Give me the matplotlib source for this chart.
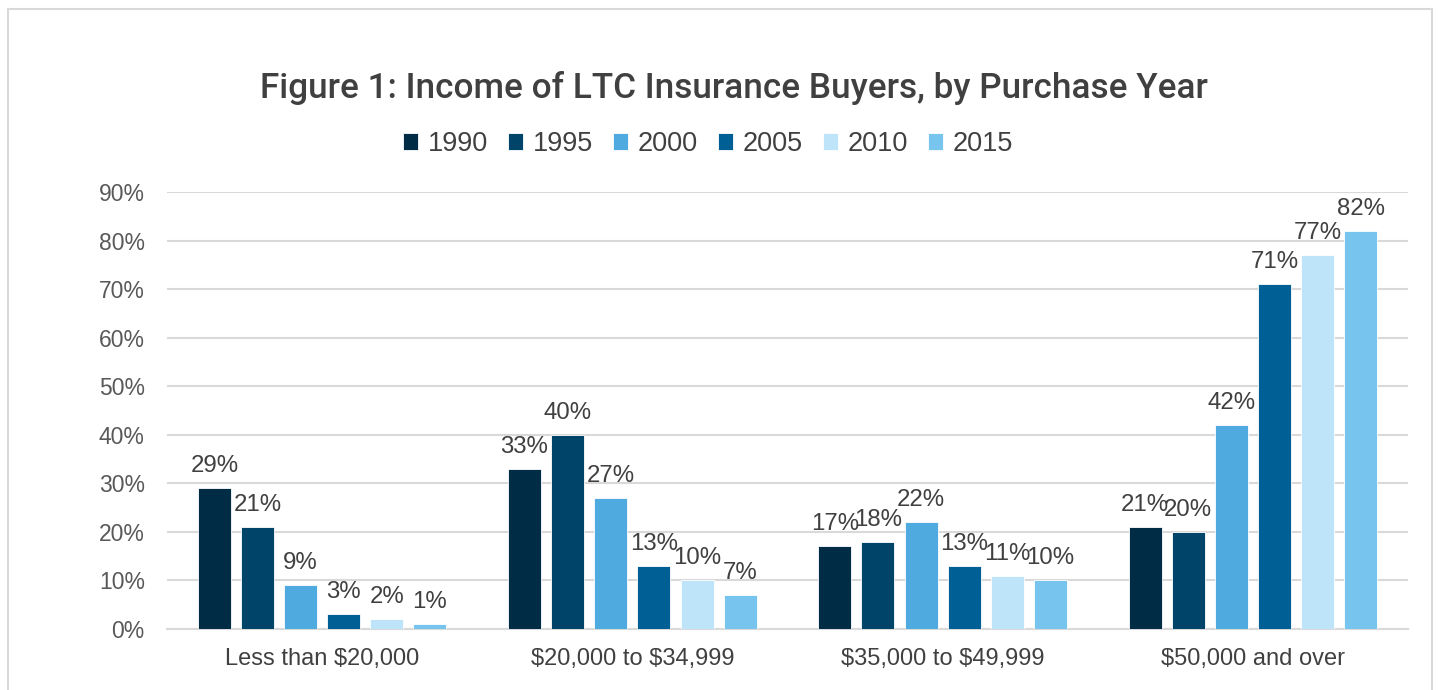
import matplotlib
matplotlib.use("Agg")
import matplotlib.pyplot as plt
from matplotlib.patches import Rectangle
import numpy as np

categories = ["Less than \\$20,000", "\\$20,000 to \\$34,999", "\\$35,000 to \\$49,999", "\\$50,000 and over"]
years = ["1990", "1995", "2000", "2005", "2010", "2015"]
values = {
    "1990": [29, 33, 17, 21],
    "1995": [21, 40, 18, 20],
    "2000": [9, 27, 22, 42],
    "2005": [3, 13, 13, 71],
    "2010": [2, 10, 11, 77],
    "2015": [1, 7, 10, 82],
}
colors = ["#002D45", "#00446A", "#4FAADF", "#005F94", "#BDE4F8", "#77C5EE"]
yticks = [0, 10, 20, 30, 40, 50, 60, 70, 80, 90]

plt.rcParams['font.family'] = ['Liberation Sans', 'DejaVu Sans']
fig = plt.figure(figsize=(14.39, 6.9), dpi=100)
W, H = 1439, 690
ax = fig.add_axes([167 / W, 1 - 629 / H, (1408 - 167) / W, (629 - 192) / H])

# outer frame
fig.patches.append(Rectangle((8 / W, -0.05), (1432 - 8) / W, (1 - 9 / H) + 0.05,
                             transform=fig.transFigure, fill=False,
                             edgecolor="#D9D9D9", linewidth=1.5))

x = np.arange(len(categories))
step = 0.139
bw = 0.106
for i, (yr, c) in enumerate(zip(years, colors)):
    offs = (i - 2.5) * step
    ax.bar(x + offs, values[yr], width=bw, color=c, label=yr,
           edgecolor="white", linewidth=0.6, zorder=3)
    for xi, v in zip(x + offs, values[yr]):
        ax.text(xi, v + 3.3, f"{v}%", ha="center", va="baseline",
                fontsize=17.3, color="#404040", zorder=4)

ax.set_xlim(-0.5, 3.5)
ax.set_ylim(0, 90)
ax.set_yticks(yticks)
ax.set_yticklabels([f"{t}%" for t in yticks], fontsize=16.5, color="#595959")
ax.set_xticks(x)
ax.set_xticklabels(categories, fontsize=17, color="#404040")
ax.tick_params(axis="both", length=0)
ax.tick_params(axis="x", pad=14)
ax.tick_params(axis="y", pad=16)
ax.grid(axis="y", color="#D9D9D9", linewidth=1.5, zorder=0)
for s in ["top", "right", "left"]:
    ax.spines[s].set_visible(False)
ax.spines["bottom"].set_color("#D9D9D9")
ax.spines["bottom"].set_linewidth(1.5)

fig.text(734 / W, 1 - 88 / H, "Figure 1: Income of LTC Insurance Buyers, by Purchase Year",
         ha="center", va="center", fontsize=25.3, color="#404040",
         family=["Roboto", "DejaVu Sans"], weight="medium")

leg = fig.legend(loc="center", bbox_to_anchor=(708 / W, 1 - 144 / H), ncol=6,
                 frameon=False, fontsize=19.5, handlelength=0.55, handleheight=0.55,
                 handletextpad=0.35, columnspacing=0.75)
for t in leg.get_texts():
    t.set_color("#404040")

fig.savefig("out.png", dpi=100)
